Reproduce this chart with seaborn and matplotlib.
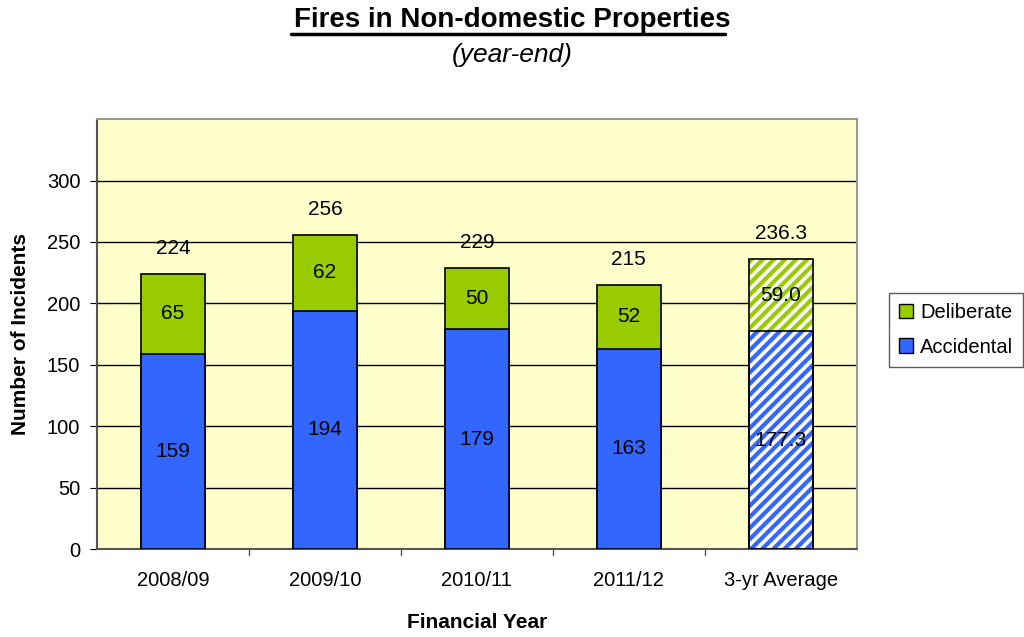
import matplotlib
matplotlib.use("Agg")
import matplotlib.pyplot as plt
import seaborn as sns
import pandas as pd
from matplotlib.patches import Rectangle, Patch

# Dados
anos = ['2008/09', '2009/10', '2010/11', '2011/12', '3-yr Average']
acidental = [159, 194, 179, 163, 177.3]
deliberado = [65, 62, 50, 52, 59.0]
total = [224, 256, 229, 215, 236.3]
rotulos_acid = ['159', '194', '179', '163', '177.3']
rotulos_delib = ['65', '62', '50', '52', '59.0']
rotulos_total = ['224', '256', '229', '215', '236.3']

verde = '#99CC00'
azul = '#3366FF'

sns.set_style('white')
plt.rcParams['font.family'] = ['Liberation Sans', 'DejaVu Sans']
plt.rcParams['text.color'] = 'black'
plt.rcParams['axes.labelcolor'] = 'black'
plt.rcParams['xtick.color'] = 'black'
plt.rcParams['ytick.color'] = 'black'
plt.rcParams['hatch.linewidth'] = 3.0

df = pd.DataFrame({'ano': anos, 'acidental': acidental, 'total': total})

fig = plt.figure(figsize=(10.24, 6.37), dpi=100)
ax = fig.add_axes([0.0947, 0.138, 0.742, 0.675])
ax.set_facecolor('#FFFFCC')

# Barras empilhadas: total (verde) por baixo, acidental (azul) por cima
sns.barplot(data=df, x='ano', y='total', color=verde, width=0.42,
            edgecolor='black', linewidth=1.2, saturation=1, ax=ax, zorder=3)
sns.barplot(data=df, x='ano', y='acidental', color=azul, width=0.42,
            edgecolor='black', linewidth=1.2, saturation=1, ax=ax, zorder=3)

# Media de 3 anos com hachura
for p, cor in [(ax.patches[4], verde), (ax.patches[9], azul)]:
    p.set_facecolor('white')
    p.set_edgecolor(cor)
    p.set_linewidth(0)
    p.set_hatch('///')
    ax.add_patch(Rectangle((p.get_x(), p.get_y()), p.get_width(), p.get_height(), fill=False,
                           edgecolor='black', linewidth=1.2, zorder=4))

# Rotulos
for i in range(len(anos)):
    ax.text(i, acidental[i] / 2, rotulos_acid[i], ha='center', va='center', fontsize=15, zorder=5)
    ax.text(i, acidental[i] + deliberado[i] / 2, rotulos_delib[i], ha='center', va='center', fontsize=15, zorder=5)
    ax.text(i, total[i] + 13, rotulos_total[i], ha='center', va='bottom', fontsize=15, zorder=5)

ax.set_ylim(0, 350)
ax.set_xlim(-0.5, 4.5)
ax.set_yticks([0, 50, 100, 150, 200, 250, 300])
ax.yaxis.grid(True, color='black', linewidth=1)
ax.set_axisbelow(True)
ax.tick_params(axis='both', labelsize=14.5, length=0, pad=7)
ax.tick_params(axis='x', pad=16)
ax.tick_params(axis='y', length=5, direction='out', left=True)
for s in ['left', 'bottom']:
    ax.spines[s].set_color('#555555')
    ax.spines[s].set_linewidth(1.5)
for s in ['top', 'right']:
    ax.spines[s].set_color('#999999')
    ax.spines[s].set_linewidth(1.5)

# marcas entre categorias
for xb in [0.5, 1.5, 2.5, 3.5]:
    ax.plot([xb, xb], [0, -5], color='#555555', lw=1, clip_on=False)

ax.set_xlabel('Financial Year', fontsize=15, fontweight='bold', labelpad=16)
ax.set_ylabel('Number of Incidents', fontsize=15, fontweight='bold', labelpad=12)

fig.text(0.5, 0.969, 'Fires in Non-domestic Properties', ha='center', va='center',
         fontsize=20, fontweight='bold')
fig.add_artist(plt.Line2D([0.284, 0.708], [0.947, 0.947], color='black', lw=2.5))
fig.text(0.5, 0.913, '(year-end)', ha='center', va='center', fontsize=19, style='italic')

handles = [Patch(facecolor=verde, edgecolor='black', label='Deliberate'),
           Patch(facecolor=azul, edgecolor='black', label='Accidental')]
leg = fig.legend(handles=handles, loc='center left', bbox_to_anchor=(0.868, 0.482),
                 fontsize=14.5, frameon=True, fancybox=False, edgecolor='#333333',
                 handlelength=0.7, handleheight=0.7, handletextpad=0.35, borderpad=0.5,
                 borderaxespad=0, labelspacing=0.75)
leg.get_frame().set_linewidth(1)

plt.savefig('out.png', dpi=100)
